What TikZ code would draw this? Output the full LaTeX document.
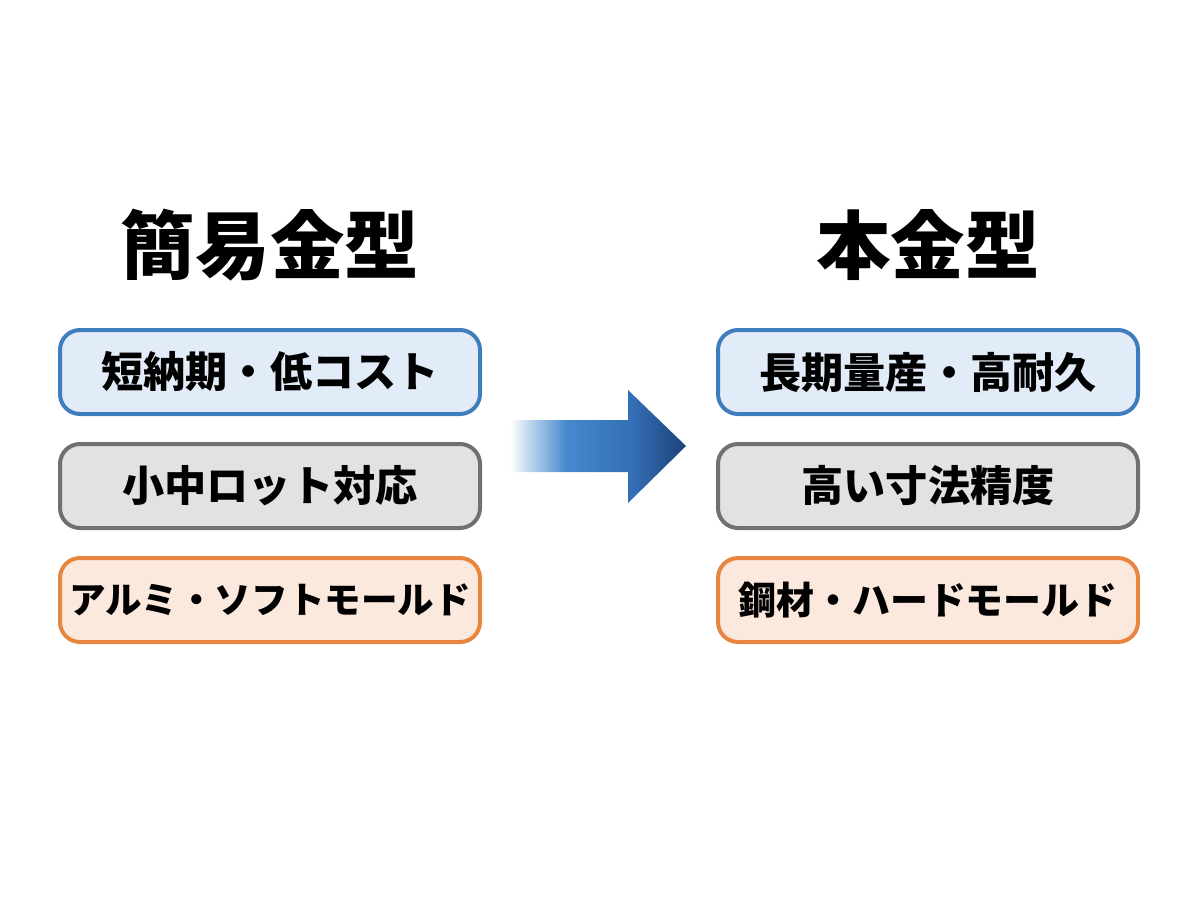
\documentclass[tikz,border=0pt]{standalone}
\usepackage{fontspec}
\setmainfont{Noto Sans CJK JP}
\usepackage{xcolor}
\usetikzlibrary{calc}
\definecolor{featblue}{RGB}{63,126,190}
\definecolor{featbluebg}{RGB}{226,236,248}
\definecolor{featgray}{RGB}{112,112,112}
\definecolor{featgraybg}{RGB}{226,226,226}
\definecolor{featorange}{RGB}{232,134,64}
\definecolor{featorangebg}{RGB}{252,233,221}
\definecolor{arrowlight}{RGB}{196,218,240}
\definecolor{arrowmid}{RGB}{70,136,206}
\definecolor{arrowdeep}{RGB}{52,110,180}
\definecolor{arrowdark}{RGB}{28,66,122}
\pgfdeclarehorizontalshading{arrowfade}{100bp}{color(0bp)=(white); color(25bp)=(white);
  color(30bp)=(arrowlight); color(41bp)=(arrowmid); color(60bp)=(arrowdeep);
  color(75bp)=(arrowdark); color(100bp)=(arrowdark)}

\begin{document}
\begin{tikzpicture}[
  feat/.style={rectangle,draw,rounded corners=0.5cm,line width=0.1cm,align=center,
               minimum width=10.5cm,minimum height=2.1cm,inner sep=0pt,
               font=\fontsize{30}{34}\selectfont\bfseries},
  title/.style={font=\fontsize{53}{60}\selectfont\bfseries}
]
\useasboundingbox (0,0) rectangle (30,-22.4);

% left column
\node[title] (simple) at (6.75,-6.125) {簡易金型};
\node[feat,draw=featblue,fill=featbluebg]     (quick)  at (6.75,-9.3)  {短納期・低コスト};
\node[feat,draw=featgray,fill=featgraybg]     (smalllot) at (6.75,-12.15) {小中ロット対応};
\node[feat,draw=featorange,fill=featorangebg,font=\fontsize{26}{30}\selectfont\bfseries] (soft) at (6.75,-15.0) {アルミ・ソフトモールド};

% right column
\node[title] (full) at (23.2,-6.125) {本金型};
\node[feat,draw=featblue,fill=featbluebg]     (durable) at (23.2,-9.3)  {長期量産・高耐久};
\node[feat,draw=featgray,fill=featgraybg]     (precise) at (23.2,-12.15) {高い寸法精度};
\node[feat,draw=featorange,fill=featorangebg,font=\fontsize{27}{31}\selectfont\bfseries] (hard) at (23.2,-15.0) {鋼材・ハードモールド};

% transition arrow
\coordinate (tail) at (12.75,-11.15);
\coordinate (tip)  at (17.15,-11.15);
\shade[shading=arrowfade]
  ($(tail)+(0,0.65)$) -- (15.7,-10.5) -- (15.7,-9.75) -- (tip)
  -- (15.7,-12.575) -- (15.7,-11.8) -- ($(tail)+(0,-0.65)$) -- cycle;
\end{tikzpicture}
\end{document}
